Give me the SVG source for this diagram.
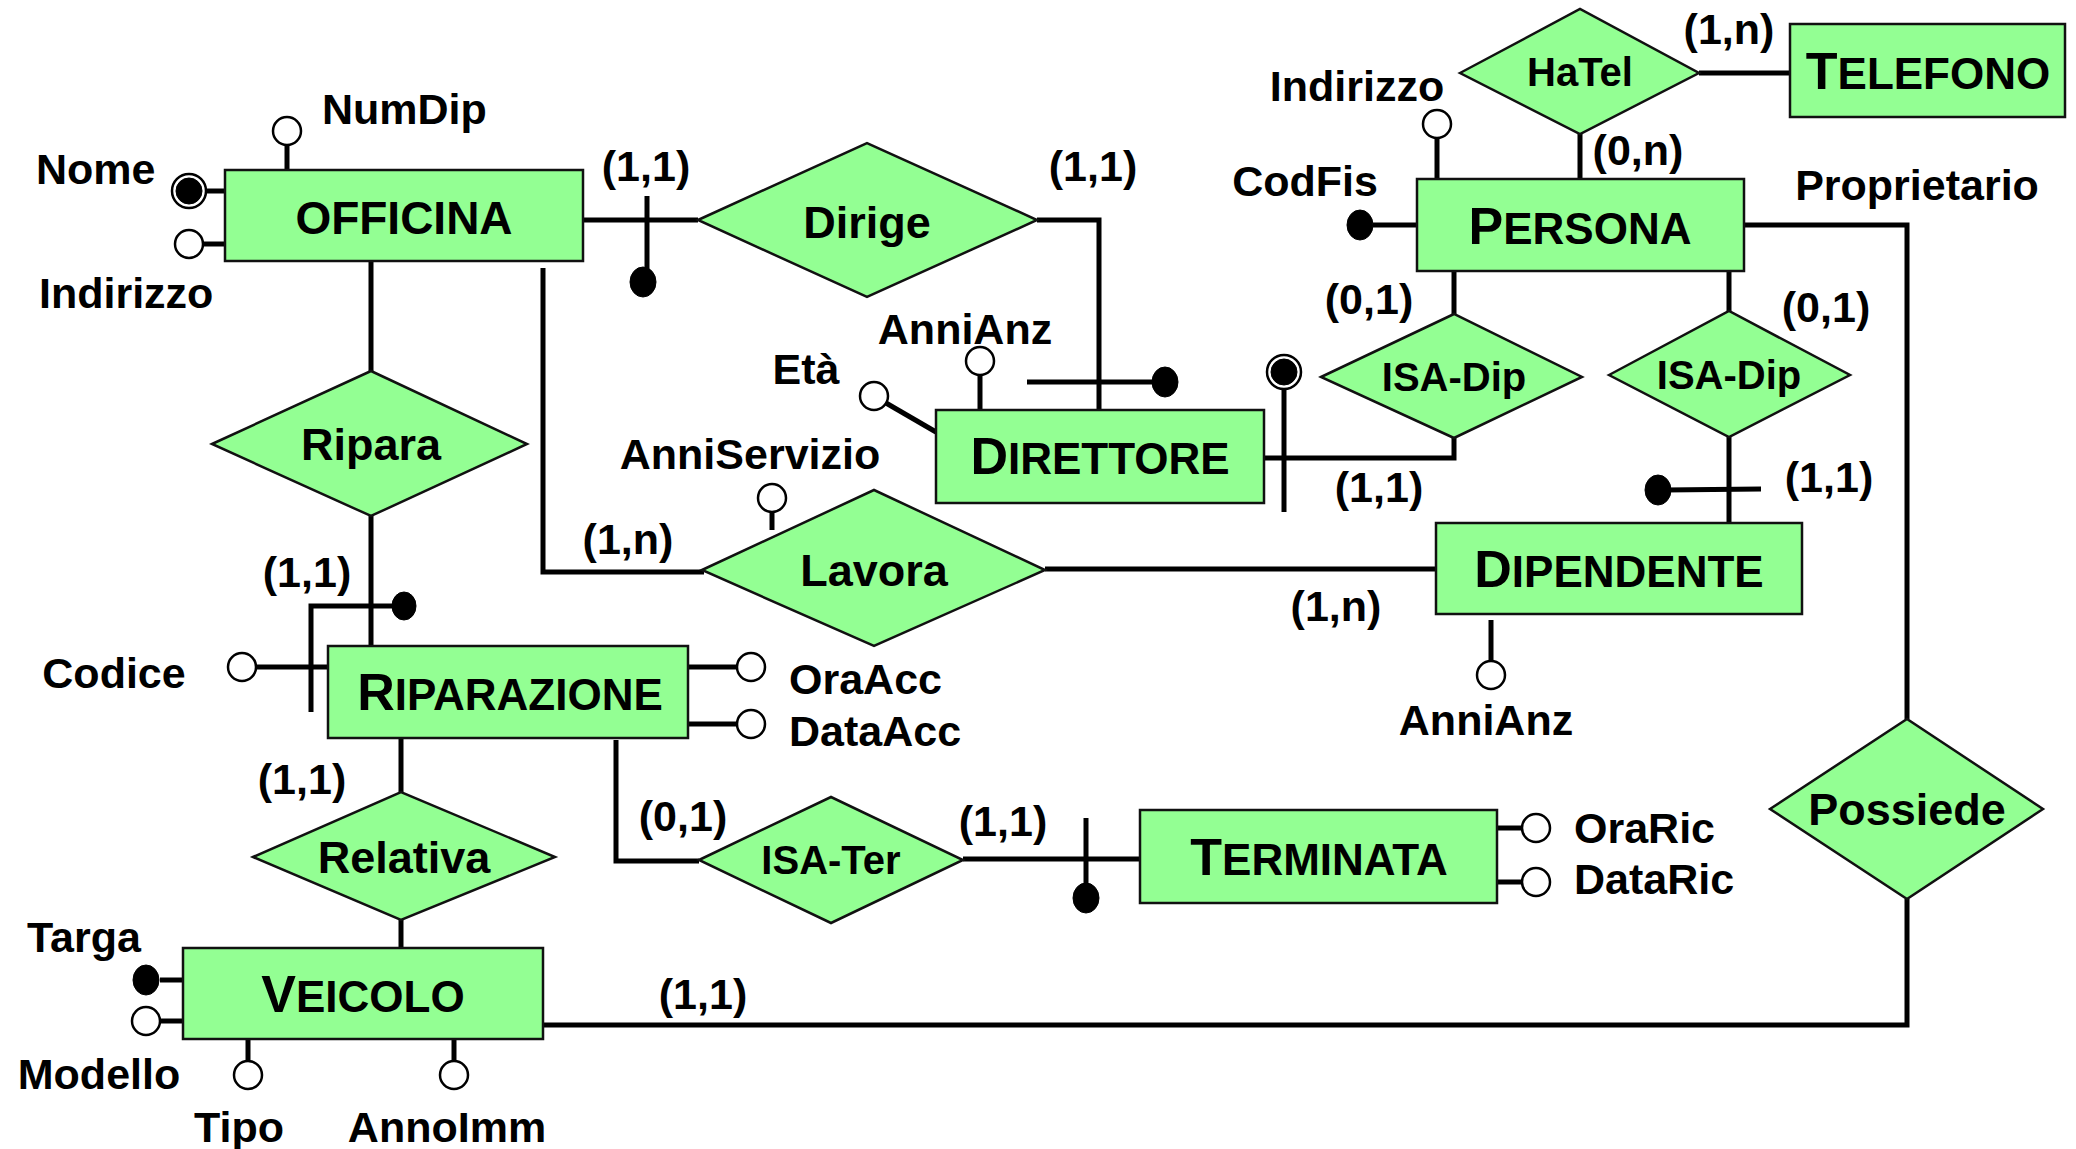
<svg xmlns="http://www.w3.org/2000/svg" width="2076" height="1149" viewBox="0 0 2076 1149">
<style>
text{font-family:"Liberation Sans",Arial,sans-serif;font-weight:bold;fill:#000}
.lbl{font-size:43px}
.rel{font-size:45px;text-anchor:middle}
.rels{font-size:40px;text-anchor:middle}
.ent{font-size:44px;text-anchor:middle}
.big{font-size:52px}
.mid{text-anchor:middle}
.box{fill:#93ff93;stroke:#111;stroke-width:2.5}
.dia{fill:#93ff93;stroke:#111;stroke-width:2.5}
.ln{fill:none;stroke:#000;stroke-width:5}
.att{fill:#fff;stroke:#000;stroke-width:2.5}
.key{fill:#000;stroke:#000;stroke-width:1}
</style>
<rect width="2076" height="1149" fill="#fff"/>
<g id="connectors">
<polyline class="ln" points="583,220 698,220"/>
<line class="ln" x1="647" y1="196" x2="647" y2="272"/>
<polyline class="ln" points="1037,220 1099,220 1099,410"/>
<line class="ln" x1="1027" y1="382" x2="1160" y2="382"/>
<line class="ln" x1="371" y1="261" x2="371" y2="371"/>
<line class="ln" x1="371" y1="516" x2="371" y2="646"/>
<polyline class="ln" points="311,712 311,606 400,606"/>
<polyline class="ln" points="543,268 543,572 704,572"/>
<line class="ln" x1="1045" y1="569" x2="1436" y2="569"/>
<line class="ln" x1="401" y1="738" x2="401" y2="792"/>
<line class="ln" x1="401" y1="920" x2="401" y2="948"/>
<polyline class="ln" points="616,740 616,861 699,861"/>
<line class="ln" x1="963" y1="859" x2="1140" y2="859"/>
<line class="ln" x1="1086" y1="818" x2="1086" y2="890"/>
<line class="ln" x1="1580" y1="134" x2="1580" y2="179"/>
<line class="ln" x1="1699" y1="73" x2="1790" y2="73"/>
<line class="ln" x1="1454" y1="271" x2="1454" y2="314"/>
<polyline class="ln" points="1264,458 1454,458 1454,437"/>
<line class="ln" x1="1284" y1="388" x2="1284" y2="512"/>
<line class="ln" x1="1729" y1="271" x2="1729" y2="311"/>
<line class="ln" x1="1729" y1="437" x2="1729" y2="523"/>
<line class="ln" x1="1665" y1="490" x2="1761" y2="489"/>
<polyline class="ln" points="1744,225 1907,225 1907,719"/>
<polyline class="ln" points="1907,899 1907,1025 543,1025"/>
<line class="ln" x1="287" y1="145" x2="287" y2="169"/>
<line class="ln" x1="206" y1="191" x2="225" y2="191"/>
<line class="ln" x1="203" y1="244" x2="225" y2="244"/>
<line class="ln" x1="886" y1="403" x2="936" y2="432"/>
<line class="ln" x1="980" y1="375" x2="980" y2="410"/>
<line class="ln" x1="772" y1="512" x2="772" y2="530"/>
<line class="ln" x1="1437" y1="138" x2="1437" y2="179"/>
<line class="ln" x1="1373" y1="225" x2="1417" y2="225"/>
<line class="ln" x1="1491" y1="620" x2="1491" y2="661"/>
<line class="ln" x1="256" y1="667" x2="328" y2="667"/>
<line class="ln" x1="688" y1="667" x2="737" y2="667"/>
<line class="ln" x1="688" y1="724" x2="737" y2="724"/>
<line class="ln" x1="1497" y1="828" x2="1522" y2="828"/>
<line class="ln" x1="1497" y1="882" x2="1522" y2="882"/>
<line class="ln" x1="160" y1="980" x2="183" y2="980"/>
<line class="ln" x1="160" y1="1021" x2="183" y2="1021"/>
<line class="ln" x1="248" y1="1039" x2="248" y2="1061"/>
<line class="ln" x1="454" y1="1039" x2="454" y2="1061"/>
<ellipse class="key" cx="643" cy="282" rx="13" ry="15"/>
<ellipse class="key" cx="1165" cy="382" rx="13" ry="15"/>
<ellipse class="key" cx="404" cy="606" rx="12" ry="14"/>
<ellipse class="key" cx="1086" cy="898" rx="13" ry="15"/>
<ellipse class="key" cx="1658" cy="490" rx="13" ry="15"/>
<circle class="att" cx="1284" cy="372" r="17"/>
<circle class="key" cx="1284" cy="372" r="13"/>
<text class="lbl mid" x="646" y="181">(1,1)</text>
<text class="lbl mid" x="1093" y="181">(1,1)</text>
<text class="lbl mid" x="628" y="554">(1,n)</text>
<text class="lbl mid" x="1336" y="621">(1,n)</text>
<text class="lbl mid" x="1729" y="44">(1,n)</text>
<text class="lbl mid" x="1638" y="165">(0,n)</text>
<text class="lbl mid" x="1369" y="314">(0,1)</text>
<text class="lbl mid" x="1826" y="322">(0,1)</text>
<text class="lbl mid" x="1379" y="502">(1,1)</text>
<text class="lbl mid" x="1829" y="492">(1,1)</text>
<text class="lbl mid" x="307" y="587">(1,1)</text>
<text class="lbl mid" x="302" y="794">(1,1)</text>
<text class="lbl mid" x="683" y="831">(0,1)</text>
<text class="lbl mid" x="1003" y="836">(1,1)</text>
<text class="lbl mid" x="703" y="1009">(1,1)</text>
<text class="lbl mid" x="1917" y="200">Proprietario</text>
</g>
<g id="OFFICINA">
<rect class="box" x="225" y="170" width="358" height="91"/>
<text class="mid" x="404" y="234" style="font-size:46px">OFFICINA</text>
</g>
<g id="DIRETTORE">
<rect class="box" x="936" y="410" width="328" height="93"/>
<text class="ent" x="1100" y="474"><tspan class="big">D</tspan>IRETTORE</text>
</g>
<g id="PERSONA">
<rect class="box" x="1417" y="179" width="327" height="92"/>
<text class="ent" x="1580" y="244"><tspan class="big">P</tspan>ERSONA</text>
</g>
<g id="TELEFONO">
<rect class="box" x="1790" y="24" width="275" height="93"/>
<text class="ent" x="1928" y="89"><tspan class="big">T</tspan>ELEFONO</text>
</g>
<g id="DIPENDENTE">
<rect class="box" x="1436" y="523" width="366" height="91"/>
<text class="ent" x="1619" y="587"><tspan class="big">D</tspan>IPENDENTE</text>
</g>
<g id="RIPARAZIONE">
<rect class="box" x="328" y="646" width="360" height="92"/>
<text class="ent" x="510" y="710"><tspan class="big">R</tspan>IPARAZIONE</text>
</g>
<g id="TERMINATA">
<rect class="box" x="1140" y="810" width="357" height="93"/>
<text class="ent" x="1319" y="875"><tspan class="big">T</tspan>ERMINATA</text>
</g>
<g id="VEICOLO">
<rect class="box" x="183" y="948" width="360" height="91"/>
<text class="ent" x="363" y="1012"><tspan class="big">V</tspan>EICOLO</text>
</g>
<g id="Dirige">
<polygon class="dia" points="698,220 867,143 1037,220 867,297"/>
<text class="rel" x="867" y="238">Dirige</text>
</g>
<g id="Ripara">
<polygon class="dia" points="212,444 371,371 527,444 371,516"/>
<text class="rel" x="371" y="460">Ripara</text>
</g>
<g id="Lavora">
<polygon class="dia" points="702,570 874,490 1045,570 874,646"/>
<text class="rel" x="874" y="586">Lavora</text>
</g>
<g id="Relativa">
<polygon class="dia" points="253,857 401,792 555,857 401,920"/>
<text class="rel" x="404" y="873">Relativa</text>
</g>
<g id="ISA-Ter">
<polygon class="dia" points="699,860 831,797 963,860 831,923"/>
<text class="rels" x="831" y="874">ISA-Ter</text>
</g>
<g id="HaTel">
<polygon class="dia" points="1460,73 1580,9 1699,73 1580,134"/>
<text class="rels" x="1580" y="86">HaTel</text>
</g>
<g id="ISA-Dip-1">
<polygon class="dia" points="1321,377 1454,314 1582,377 1454,438"/>
<text class="rels" x="1454" y="391">ISA-Dip</text>
</g>
<g id="ISA-Dip-2">
<polygon class="dia" points="1609,375 1729,311 1850,375 1729,437"/>
<text class="rels" x="1729" y="389">ISA-Dip</text>
</g>
<g id="Possiede">
<polygon class="dia" points="1770,809 1907,719 2043,809 1907,899"/>
<text class="rel" x="1907" y="825">Possiede</text>
</g>
<g id="attr-Nome">
<circle class="att" cx="189" cy="191" r="17"/>
<circle class="key" cx="189" cy="191" r="13"/>
<text class="lbl" x="36" y="184">Nome</text>
</g>
<g id="attr-Officina-Indirizzo">
<circle class="att" cx="189" cy="244" r="14"/>
<text class="lbl" x="39" y="308">Indirizzo</text>
</g>
<g id="attr-NumDip">
<circle class="att" cx="287" cy="131" r="14"/>
<text class="lbl" x="322" y="124">NumDip</text>
</g>
<g id="attr-Eta">
<circle class="att" cx="874" cy="396" r="14"/>
<text class="lbl mid" x="806" y="384">Età</text>
</g>
<g id="attr-Dir-AnniAnz">
<circle class="att" cx="980" cy="361" r="14"/>
<text class="lbl mid" x="965" y="344">AnniAnz</text>
</g>
<g id="attr-AnniServizio">
<circle class="att" cx="772" cy="498" r="14"/>
<text class="lbl mid" x="750" y="469">AnniServizio</text>
</g>
<g id="attr-Persona-Indirizzo">
<circle class="att" cx="1437" cy="124" r="14"/>
<text class="lbl mid" x="1357" y="101">Indirizzo</text>
</g>
<g id="attr-CodFis">
<ellipse class="key" cx="1360" cy="225" rx="13" ry="15"/>
<text class="lbl mid" x="1305" y="196">CodFis</text>
</g>
<g id="attr-Dip-AnniAnz">
<circle class="att" cx="1491" cy="675" r="14"/>
<text class="lbl mid" x="1486" y="735">AnniAnz</text>
</g>
<g id="attr-Codice">
<circle class="att" cx="242" cy="667" r="14"/>
<text class="lbl mid" x="114" y="688">Codice</text>
</g>
<g id="attr-OraAcc">
<circle class="att" cx="751" cy="667" r="14"/>
<text class="lbl" x="789" y="694">OraAcc</text>
</g>
<g id="attr-DataAcc">
<circle class="att" cx="751" cy="724" r="14"/>
<text class="lbl" x="789" y="746">DataAcc</text>
</g>
<g id="attr-OraRic">
<circle class="att" cx="1536" cy="828" r="14"/>
<text class="lbl" x="1574" y="843">OraRic</text>
</g>
<g id="attr-DataRic">
<circle class="att" cx="1536" cy="882" r="14"/>
<text class="lbl" x="1574" y="894">DataRic</text>
</g>
<g id="attr-Targa">
<ellipse class="key" cx="146" cy="980" rx="13" ry="15"/>
<text class="lbl mid" x="84" y="952">Targa</text>
</g>
<g id="attr-Modello">
<circle class="att" cx="146" cy="1021" r="14"/>
<text class="lbl mid" x="99" y="1089">Modello</text>
</g>
<g id="attr-Tipo">
<circle class="att" cx="248" cy="1075" r="14"/>
<text class="lbl mid" x="239" y="1142">Tipo</text>
</g>
<g id="attr-AnnoImm">
<circle class="att" cx="454" cy="1075" r="14"/>
<text class="lbl mid" x="447" y="1142">AnnoImm</text>
</g>
</svg>
